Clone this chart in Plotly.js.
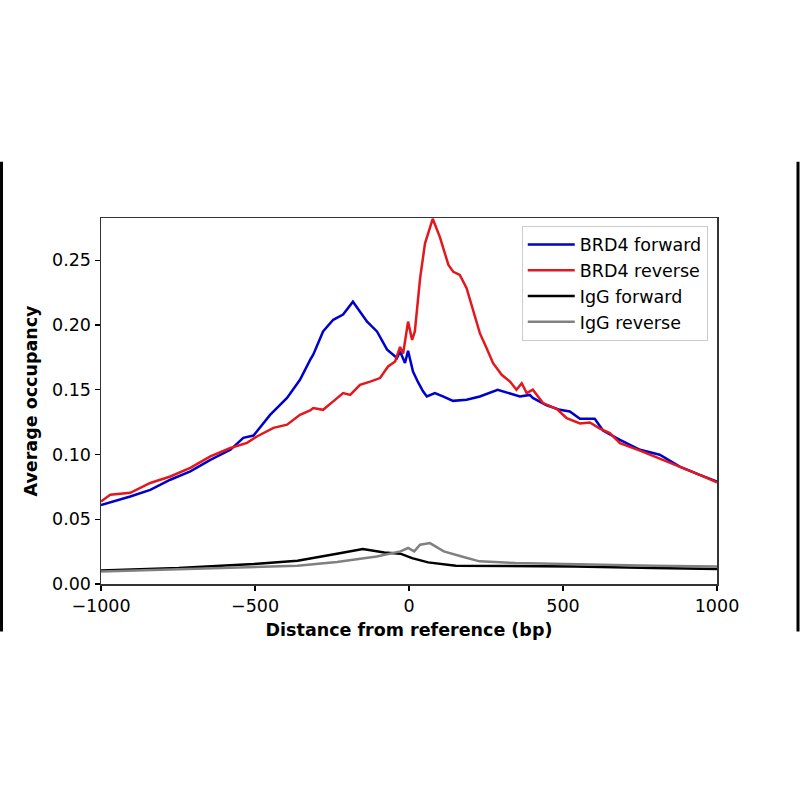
<!DOCTYPE html>
<html>
<head>
<meta charset="utf-8">
<script src="https://cdn.plot.ly/plotly-3.0.1.min.js"></script>
<style>
  html, body { margin: 0; padding: 0; background: #fff; }
  #plot { width: 800px; height: 800px; }
</style>
</head>
<body>
<div id="plot"></div>
<script>
var brd4FwdX = [-1000, -970, -905, -840, -775, -710, -645, -580, -538, -505, -451, -396, -354, -321, -311, -279, -246, -214, -182, -136, -104, -71, -39, -29, -13, -3, 13, 29, 45, 58, 84, 110, 132, 143, 187, 230, 288, 328, 360, 392, 402, 447, 490, 522, 555, 603, 630, 685, 750, 814, 879, 944, 1000];
var brd4FwdY = [0.061, 0.063, 0.0676, 0.0727, 0.0805, 0.0869, 0.0959, 0.1036, 0.1129, 0.1146, 0.1306, 0.1437, 0.1577, 0.173, 0.177, 0.195, 0.204, 0.208, 0.218, 0.2026, 0.195, 0.181, 0.1745, 0.1795, 0.1707, 0.180, 0.164, 0.156, 0.149, 0.1448, 0.1474, 0.1448, 0.1422, 0.1414, 0.1422, 0.1448, 0.150, 0.1474, 0.1448, 0.146, 0.1437, 0.138, 0.1345, 0.1332, 0.1275, 0.1275, 0.1185, 0.1113, 0.1036, 0.0998, 0.0907, 0.0843, 0.079];

var brd4RevX = [-1000, -970, -905, -840, -775, -710, -645, -580, -526, -494, -440, -396, -354, -321, -311, -279, -246, -214, -191, -159, -126, -94, -68, -45, -29, -19, -3, 10, 19, 36, 52, 77, 100, 128, 144, 165, 187, 209, 230, 252, 273, 301, 328, 349, 366, 382, 402, 435, 480, 512, 555, 587, 620, 652, 685, 750, 814, 879, 944, 1000];
var brd4RevY = [0.0637, 0.0689, 0.0704, 0.078, 0.083, 0.0897, 0.0985, 0.105, 0.109, 0.1139, 0.1206, 0.123, 0.1306, 0.134, 0.1358, 0.1345, 0.141, 0.1474, 0.146, 0.1538, 0.1563, 0.159, 0.168, 0.1718, 0.183, 0.178, 0.2026, 0.1885, 0.195, 0.236, 0.263, 0.282, 0.268, 0.2464, 0.241, 0.2387, 0.2284, 0.2103, 0.1937, 0.182, 0.1705, 0.1615, 0.1563, 0.150, 0.155, 0.1474, 0.150, 0.1397, 0.135, 0.128, 0.124, 0.1247, 0.120, 0.1165, 0.1088, 0.103, 0.097, 0.0907, 0.0843, 0.0784];

var iggFwdX = [-1000, -748, -504, -362, -234, -150, -80, -28, 10, 62, 152, 280, 537, 794, 1000];
var iggFwdY = [0.0105, 0.0123, 0.0154, 0.018, 0.0234, 0.027, 0.0244, 0.0234, 0.020, 0.0167, 0.0141, 0.0141, 0.0136, 0.0123, 0.0116];

var iggRevX = [-1000, -748, -504, -362, -234, -105, -28, -3, 17, 36, 68, 113, 177, 229, 345, 537, 794, 1000];
var iggRevY = [0.0097, 0.0116, 0.0136, 0.0141, 0.017, 0.0213, 0.0252, 0.0278, 0.0252, 0.0303, 0.0316, 0.0252, 0.0208, 0.0175, 0.0162, 0.0151, 0.0141, 0.0136];

var seriesNames = ['BRD4 forward', 'BRD4 reverse', 'IgG forward', 'IgG reverse'];
var seriesColors = ['#0000cc', '#e3171c', '#000000', '#808080'];

var xs = [brd4FwdX, brd4RevX, iggFwdX, iggRevX];
var ys = [brd4FwdY, brd4RevY, iggFwdY, iggRevY];

var data = [];
for (var i = 0; i < seriesNames.length; i++) {
  data.push({
    x: xs[i],
    y: ys[i],
    name: seriesNames[i],
    legendgroup: 'g' + i,
    type: 'scatter',
    mode: 'lines',
    line: { color: seriesColors[i], width: 2.5 }
  });
}

var axisCommon = {
  showgrid: false,
  zeroline: false,
  showline: true,
  mirror: true,
  linecolor: '#333',
  linewidth: 1.5,
  ticks: 'outside',
  ticklen: 5,
  tickwidth: 1.2,
  tickcolor: '#000',
  tickfont: { family: 'DejaVu Sans', size: 17.5, color: '#000' }
};

var layout = {
  width: 800,
  height: 800,
  margin: { l: 101, r: 83, t: 218, b: 216 },
  paper_bgcolor: '#fff',
  plot_bgcolor: '#fff',
  showlegend: true,
  font: { family: 'DejaVu Sans', size: 17.5, color: '#000' },
  xaxis: Object.assign({}, axisCommon, {
    range: [-1000, 1000],
    tickvals: [-1000, -500, 0, 500, 1000],
    title: { text: '<b>Distance from reference (bp)</b>', font: { family: 'DejaVu Sans', size: 17.5 }, standoff: 9 }
  }),
  yaxis: Object.assign({}, axisCommon, {
    range: [0, 0.2826],
    tickvals: [0, 0.05, 0.10, 0.15, 0.20, 0.25],
    tickformat: '.2f',
    title: { text: '<b>Average occupancy</b>', font: { family: 'DejaVu Sans', size: 17.5 }, standoff: 10 }
  }),
  legend: {
    x: 0.985,
    y: 0.979,
    xanchor: 'right',
    yanchor: 'top',
    bgcolor: 'rgba(255,255,255,0.8)',
    bordercolor: '#cccccc',
    borderwidth: 1,
    tracegroupgap: 0,
    itemwidth: 47,
    font: { family: 'DejaVu Sans', size: 17.5, color: '#000' }
  },
  shapes: [
    { type: 'line', xref: 'paper', yref: 'paper', x0: -0.1615, x1: -0.1615, y0: 1.154, y1: -0.13, line: { color: '#000', width: 3 } },
    { type: 'line', xref: 'paper', yref: 'paper', x0: 1.1315, x1: 1.1315, y0: 1.154, y1: -0.13, line: { color: '#000', width: 3 } }
  ]
};

Plotly.newPlot('plot', data, layout, { staticPlot: true, displayModeBar: false });
</script>
</body>
</html>
